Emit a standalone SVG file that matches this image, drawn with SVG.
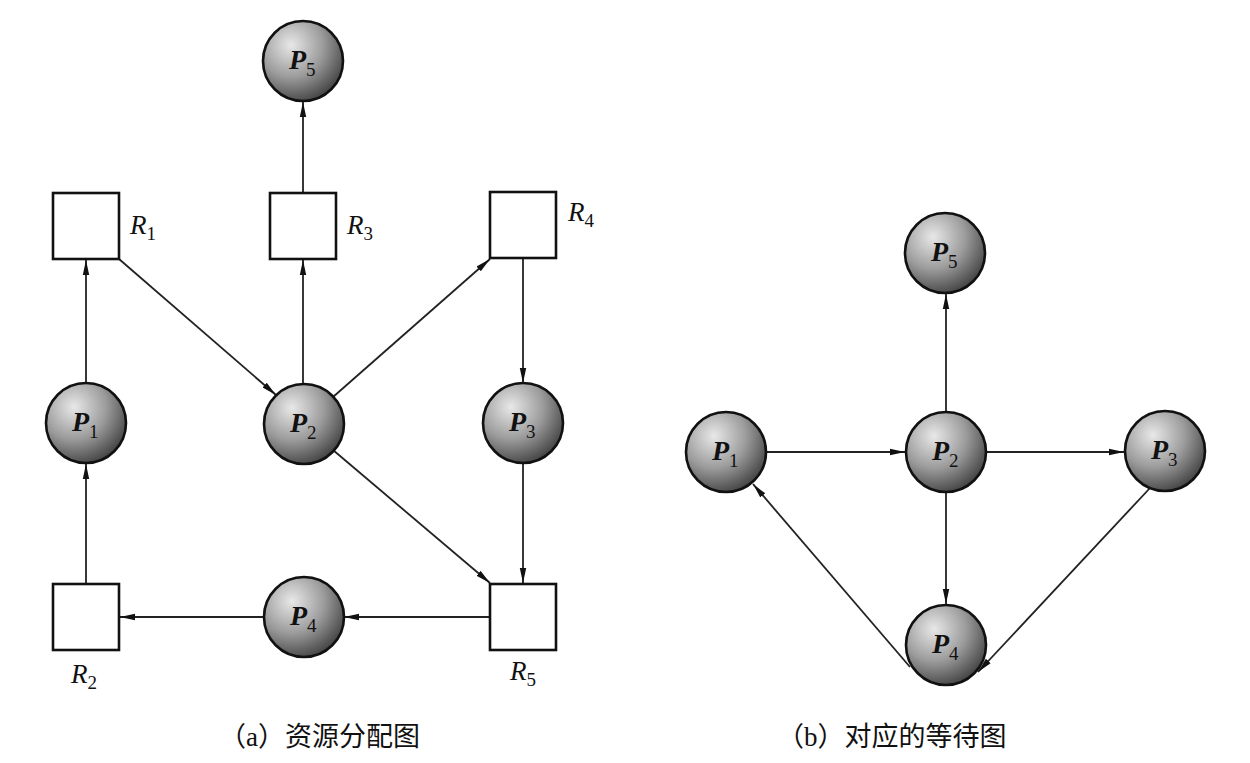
<svg xmlns="http://www.w3.org/2000/svg" width="1250" height="763" viewBox="0 0 1250 763">
<defs>
<radialGradient id="sph" cx="0.35" cy="0.3" r="0.8">
<stop offset="0" stop-color="#e8e8e8"/>
<stop offset="0.5" stop-color="#9c9c9c"/>
<stop offset="1" stop-color="#353535"/>
</radialGradient>
<marker id="ah" markerWidth="16" markerHeight="8" refX="15" refY="4" orient="auto" markerUnits="userSpaceOnUse">
<path d="M0,0.8 L15,4 L0,7.2 Z" fill="#111"/>
</marker>
<style>
.proc{fill:url(#sph);stroke:#111;stroke-width:2.6}
.res{fill:#fff;stroke:#111;stroke-width:2.6}
.edge{stroke:#222;stroke-width:1.8;fill:none;marker-end:url(#ah)}
.pl{font-family:"Liberation Serif",serif;font-style:italic;font-weight:bold;font-size:28px;fill:#111}
.rl{font-family:"Liberation Serif",serif;font-style:italic;font-size:27px;fill:#111}
.sub{font-style:normal;font-weight:normal;font-size:19px}
.cap{font-family:"Liberation Serif","Noto Sans CJK SC",serif;font-size:27px;fill:#111}
</style>
</defs>
<rect width="1250" height="763" fill="#fff"/>

<g id="connectors">
<line class="edge" x1="303" y1="193" x2="303" y2="102"/>
<line class="edge" x1="86" y1="383" x2="86" y2="260"/>
<line class="edge" x1="119" y1="259" x2="276" y2="395"/>
<line class="edge" x1="303" y1="384" x2="303" y2="260"/>
<line class="edge" x1="333" y1="397" x2="490" y2="259"/>
<line class="edge" x1="523" y1="259" x2="523" y2="383"/>
<line class="edge" x1="333" y1="450" x2="490" y2="583"/>
<line class="edge" x1="523" y1="463" x2="523" y2="583"/>
<line class="edge" x1="490" y1="617" x2="344" y2="617"/>
<line class="edge" x1="264" y1="617" x2="120" y2="617"/>
<line class="edge" x1="86" y1="584" x2="86" y2="464"/>
<line class="edge" x1="767" y1="452" x2="905" y2="452"/>
<line class="edge" x1="946" y1="412" x2="946" y2="294"/>
<line class="edge" x1="986" y1="452" x2="1124" y2="452"/>
<line class="edge" x1="946" y1="492" x2="946" y2="604"/>
<line class="edge" x1="1150" y1="488" x2="978" y2="672"/>
<line class="edge" x1="910" y1="667" x2="753" y2="484"/>
</g>

<g id="a-P5"><circle class="proc" cx="303" cy="61" r="40"/><text class="pl" x="289" y="69">P<tspan class="sub" dy="7">5</tspan></text></g>
<g id="a-R1"><rect class="res" x="53" y="193" width="66" height="66"/><text class="rl" x="130" y="234">R<tspan class="sub" dy="6">1</tspan></text></g>
<g id="a-R3"><rect class="res" x="270" y="193" width="66" height="66"/><text class="rl" x="347" y="234">R<tspan class="sub" dy="6">3</tspan></text></g>
<g id="a-R4"><rect class="res" x="490" y="192" width="66" height="66"/><text class="rl" x="568" y="221">R<tspan class="sub" dy="6">4</tspan></text></g>
<g id="a-P1"><circle class="proc" cx="86" cy="423" r="40"/><text class="pl" x="72" y="431">P<tspan class="sub" dy="7">1</tspan></text></g>
<g id="a-P2"><circle class="proc" cx="304" cy="424" r="40"/><text class="pl" x="290" y="432">P<tspan class="sub" dy="7">2</tspan></text></g>
<g id="a-P3"><circle class="proc" cx="523" cy="423" r="40"/><text class="pl" x="509" y="431">P<tspan class="sub" dy="7">3</tspan></text></g>
<g id="a-P4"><circle class="proc" cx="304" cy="617" r="40"/><text class="pl" x="290" y="625">P<tspan class="sub" dy="7">4</tspan></text></g>
<g id="a-R2"><rect class="res" x="53" y="584" width="66" height="66"/><text class="rl" x="71" y="683">R<tspan class="sub" dy="6">2</tspan></text></g>
<g id="a-R5"><rect class="res" x="490" y="584" width="66" height="66"/><text class="rl" x="510" y="680">R<tspan class="sub" dy="6">5</tspan></text></g>

<g id="b-P5"><circle class="proc" cx="945" cy="253" r="40"/><text class="pl" x="931" y="261">P<tspan class="sub" dy="7">5</tspan></text></g>
<g id="b-P1"><circle class="proc" cx="726" cy="452" r="40"/><text class="pl" x="712" y="460">P<tspan class="sub" dy="7">1</tspan></text></g>
<g id="b-P2"><circle class="proc" cx="946" cy="452" r="40"/><text class="pl" x="932" y="460">P<tspan class="sub" dy="7">2</tspan></text></g>
<g id="b-P3"><circle class="proc" cx="1165" cy="451" r="40"/><text class="pl" x="1151" y="459">P<tspan class="sub" dy="7">3</tspan></text></g>
<g id="b-P4"><circle class="proc" cx="946" cy="645" r="40"/><text class="pl" x="932" y="653">P<tspan class="sub" dy="7">4</tspan></text></g>

<g id="captions">
<text class="cap" x="219" y="746">（a）资源分配图</text>
<text class="cap" x="777" y="746">（b）对应的等待图</text>
</g>
</svg>
